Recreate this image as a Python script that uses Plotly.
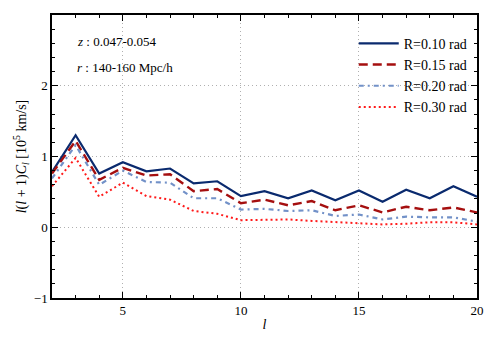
import plotly.graph_objects as go

ells = list(range(2, 21))
r010 = [0.78, 1.30, 0.76, 0.92, 0.79, 0.83, 0.62, 0.65, 0.44, 0.51, 0.41, 0.52, 0.38, 0.52, 0.36, 0.53, 0.41, 0.58, 0.43]
r015 = [0.76, 1.22, 0.67, 0.84, 0.73, 0.75, 0.51, 0.54, 0.34, 0.39, 0.31, 0.37, 0.24, 0.31, 0.21, 0.29, 0.24, 0.28, 0.21]
r020 = [0.69, 1.16, 0.60, 0.80, 0.64, 0.63, 0.41, 0.41, 0.25, 0.26, 0.23, 0.24, 0.16, 0.18, 0.11, 0.15, 0.14, 0.14, 0.08]
r030 = [0.58, 0.98, 0.43, 0.63, 0.44, 0.39, 0.23, 0.19, 0.10, 0.11, 0.11, 0.09, 0.07, 0.06, 0.04, 0.05, 0.07, 0.07, 0.04]

names = ["R=0.10 rad", "R=0.15 rad", "R=0.20 rad", "R=0.30 rad"]
colors = ["#0a2a6e", "#a50f0f", "#7291c8", "#ff1a1a"]
dashes = ["solid", "9px,5px", "5px,4px,2px,4px", "2px,3px"]
widths = [2.2, 2.4, 2.2, 2.0]

FONT = "Liberation Serif"
fig = go.Figure()
for ys, n, c, d, w in zip([r010, r015, r020, r030], names, colors, dashes, widths):
    fig.add_trace(go.Scatter(x=ells, y=ys, mode="lines", name=n,
                             line=dict(color=c, dash=d, width=w)))

axis_common = dict(showline=True, linecolor="black", linewidth=1.5, mirror="allticks",
                   ticks="inside", ticklen=6, tickcolor="black", tickwidth=1,
                   showgrid=True, gridcolor="#b0b0b0", griddash="1px,3px", gridwidth=1,
                   zeroline=False, automargin=False,
                   tickfont=dict(family=FONT, size=13, color="black"))

fig.update_xaxes(range=[2, 20], tickvals=[5, 10, 15, 20],
                 minor=dict(ticks="inside", ticklen=3, tickcolor="black", dtick=1, tick0=0, showgrid=False),
                 title=dict(text="<i>l</i>", font=dict(family=FONT, size=14, color="black"), standoff=2),
                 **axis_common)
fig.update_yaxes(range=[-1, 3], tickvals=[-1, 0, 1, 2, 3], ticktext=["\u22121", "0", "1", "2", "3"],
                 minor=dict(ticks="inside", ticklen=3, tickcolor="black", dtick=0.2, tick0=0, showgrid=False),
                 title=dict(text="<i>l</i>(<i>l</i> + 1)<i>C<sub>l</sub></i> [10<sup>5</sup> km/s]",
                            font=dict(family=FONT, size=14, color="black"), standoff=4),
                 **axis_common)

fig.add_annotation(xref="paper", yref="paper", x=0.055, y=0.905, xanchor="left", yanchor="middle",
                   text="<i>z</i> : 0.047-0.054", showarrow=False,
                   font=dict(family=FONT, size=13, color="black"))
fig.add_annotation(xref="paper", yref="paper", x=0.055, y=0.815, xanchor="left", yanchor="middle",
                   text="<i>r</i> : 140-160 Mpc/h", showarrow=False,
                   font=dict(family=FONT, size=13, color="black"))

# page body adds an 8px offset; compensate so the plot area matches the reference
fig.update_layout(width=485, height=335, margin=dict(l=44, r=16, t=7, b=45),
                  plot_bgcolor="white", paper_bgcolor="white",
                  legend=dict(x=0.99, y=0.955, xanchor="right", yanchor="top", bgcolor="rgba(0,0,0,0)",
                              font=dict(family=FONT, size=14, color="black"), itemwidth=40,
                              tracegroupgap=0),
                  font=dict(family=FONT))
fig.write_html("out.html")
